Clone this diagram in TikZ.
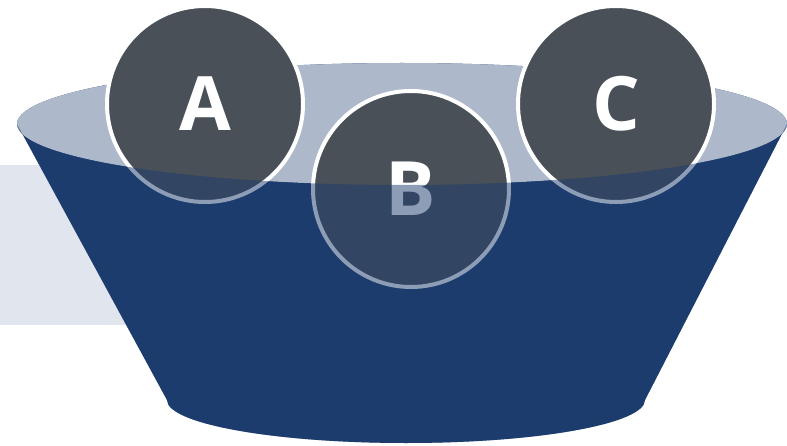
\documentclass[tikz,border=0pt]{standalone}
\usepackage{fontspec}
\setmainfont{Open Sans}
\definecolor{bowlblue}{HTML}{1C3C6E}
\definecolor{rimgray}{HTML}{ADB9CB}
\definecolor{bandgray}{HTML}{E1E5ED}
\definecolor{ballgray}{HTML}{495057}
\tikzset{
  ball/.style={circle, draw=white, line width=4pt, fill=ballgray, minimum size=196pt, inner sep=0pt,
    text=white, font=\fontsize{75}{80}\selectfont\bfseries},
}
\begin{document}
\begin{tikzpicture}[x=1pt,y=1pt]
\useasboundingbox (0,0) rectangle (787,445);
\clip (0,0) rectangle (787,445);
% background band
\fill[bandgray] (0,120) rectangle (400,280);
% bowl body
\fill[bowlblue] (17,321) -- (167,45) arc[start angle=180,end angle=360,x radius=239,y radius=43]
  -- (787,321) arc[start angle=0,end angle=180,x radius=385,y radius=61] -- cycle;
% rim
\fill[rimgray] (402,321) ellipse[x radius=385,y radius=61];
% balls
\node[ball] (A) at (205,341) {A};
\node[ball] (C) at (616,341) {C};
\node[ball] (B) at (411,256) {B};
% translucent front of bowl
\fill[bowlblue, opacity=0.5] (17,321) arc[start angle=180,end angle=360,x radius=385,y radius=61]
  -- (645,45) arc[start angle=0,end angle=-180,x radius=239,y radius=43] -- cycle;
\end{tikzpicture}
\end{document}
